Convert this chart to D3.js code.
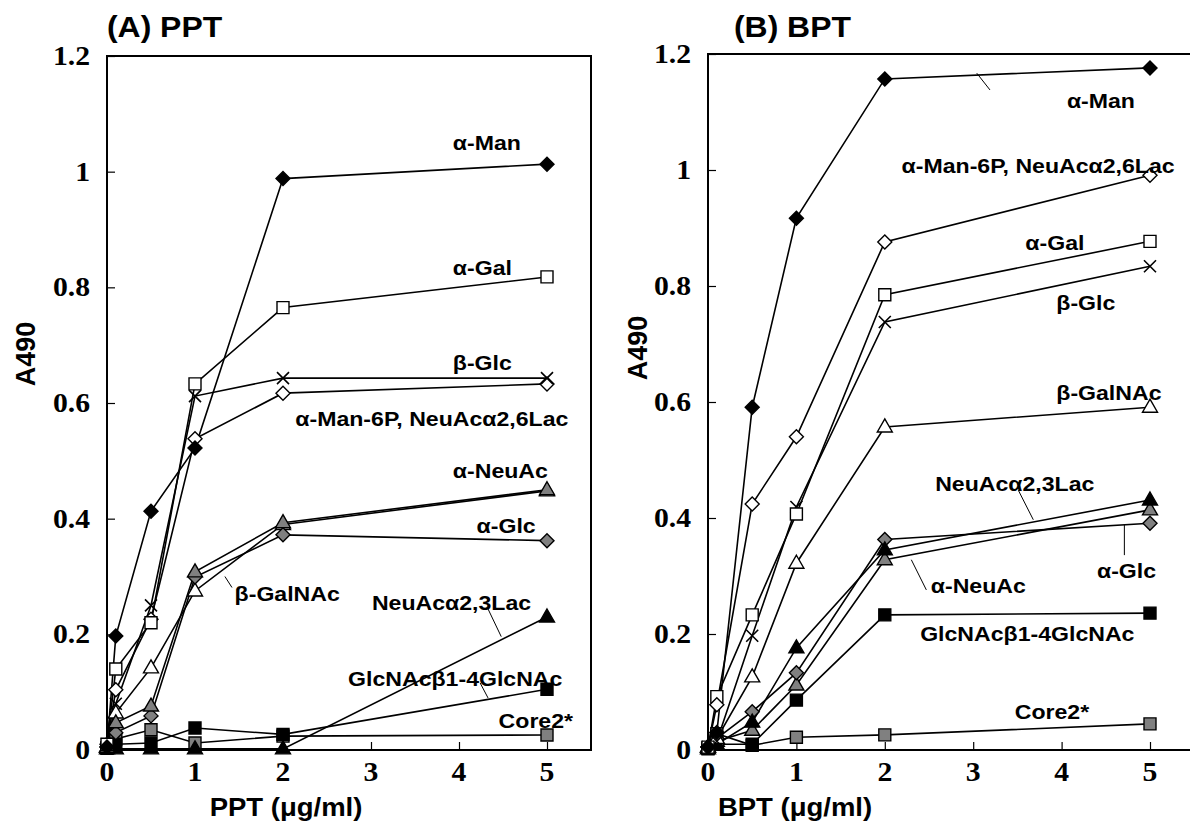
<!DOCTYPE html>
<html lang="en">
  <head>
    <meta http-equiv="Content-Type" content="text/html; charset=utf-8"/>
    <style>
body { margin: 0; background: #fff; }
.serif { font-family: "Liberation Serif", "Times New Roman", serif; font-weight: bold; fill: #000; }
.sans { font-family: "Liberation Sans", Arial, sans-serif; font-weight: bold; fill: #000; }
line.lead { stroke: #000; stroke-width: 1; }
    </style>
  </head>
  <body>
    <svg id="chart" width="1190" height="834"></svg>
    <script src="https://d3js.org/d3.v7.min.js"></script>
    <script>

// concentrations (ug/ml)
var conc = [0, 0.1, 0.5, 1, 2, 5];
var xTicks = [0, 1, 2, 3, 4, 5];
var yTicks = [0, 0.2, 0.4, 0.6, 0.8, 1, 1.2];

// (A) PPT
var pptAMan     = [0.005, 0.197, 0.413, 0.522, 0.988, 1.013];
var pptAGal     = [0.010, 0.140, 0.220, 0.633, 0.765, 0.818];
var pptBGlc     = [0.010, 0.080, 0.250, 0.612, 0.643, 0.643];
var pptAMan6P   = [0.010, 0.104, 0.226, 0.538, 0.617, 0.633];
var pptBGalNAc  = [0.005, 0.064, 0.142, 0.275, 0.390, 0.448];
var pptANeuAc   = [0.005, 0.047, 0.076, 0.308, 0.393, 0.450];
var pptAGlc     = [0.005, 0.030, 0.059, 0.299, 0.372, 0.362];
var pptNeu23    = [0.002, 0.002, 0.002, 0.002, 0.002, 0.230];
var pptGlcNAc   = [0.003, 0.010, 0.012, 0.038, 0.027, 0.105];
var pptCore2    = [0.004, 0.019, 0.035, 0.012, 0.024, 0.026];

// (B) BPT
var bptAMan     = [0.005, 0.030, 0.591, 0.917, 1.157, 1.176];
var bptAMan6P   = [0.005, 0.078, 0.424, 0.540, 0.876, 0.991];
var bptAGal     = [0.005, 0.092, 0.233, 0.407, 0.785, 0.877];
var bptBGlc     = [0.005, 0.015, 0.197, 0.419, 0.738, 0.834];
var bptBGalNAc  = [0.005, 0.020, 0.126, 0.322, 0.557, 0.591];
var bptNeu23    = [0.002, 0.010, 0.048, 0.176, 0.345, 0.431];
var bptAGlc     = [0.005, 0.020, 0.066, 0.133, 0.363, 0.391];
var bptANeuAc   = [0.005, 0.015, 0.034, 0.112, 0.328, 0.414];
var bptGlcNAc   = [0.002, 0.010, 0.010, 0.086, 0.233, 0.236];
var bptCore2    = [0.003, 0.028, 0.008, 0.022, 0.026, 0.045];

var pptSeries = [
  { v: pptCore2, m: 'square', fill: '#808080' },
  { v: pptGlcNAc, m: 'square', fill: '#000' },
  { v: pptNeu23, m: 'triangle', fill: '#000' },
  { v: pptBGalNAc, m: 'triangle', fill: '#fff' },
  { v: pptAGlc, m: 'diamond', fill: '#808080' },
  { v: pptANeuAc, m: 'triangle', fill: '#808080' },
  { v: pptAMan6P, m: 'diamond', fill: '#fff' },
  { v: pptBGlc, m: 'cross', fill: 'none' },
  { v: pptAGal, m: 'square', fill: '#fff' },
  { v: pptAMan, m: 'diamond', fill: '#000' }
];
var bptSeries = [
  { v: bptCore2, m: 'square', fill: '#808080' },
  { v: bptGlcNAc, m: 'square', fill: '#000' },
  { v: bptANeuAc, m: 'triangle', fill: '#808080' },
  { v: bptAGlc, m: 'diamond', fill: '#808080' },
  { v: bptNeu23, m: 'triangle', fill: '#000' },
  { v: bptBGalNAc, m: 'triangle', fill: '#fff' },
  { v: bptBGlc, m: 'cross', fill: 'none' },
  { v: bptAGal, m: 'square', fill: '#fff' },
  { v: bptAMan6P, m: 'diamond', fill: '#fff' },
  { v: bptAMan, m: 'diamond', fill: '#000' }
];

// labels: text, x/y in data units (left edge, baseline), optional leader line
var pptLabels = [
  { t: 'α-Man', x: 3.93, y: 1.037 },
  { t: 'α-Gal', x: 3.93, y: 0.821 },
  { t: 'β-Glc', x: 3.93, y: 0.657 },
  { t: 'α-Man-6P, NeuAcα2,6Lac', x: 2.14, y: 0.560 },
  { t: 'α-NeuAc', x: 3.93, y: 0.470 },
  { t: 'α-Glc', x: 4.20, y: 0.375 },
  { t: 'β-GalNAc', x: 1.45, y: 0.258, l: [1.34, 0.300, 1.42, 0.281] },
  { t: 'NeuAcα2,3Lac', x: 3.01, y: 0.242, l: [4.32, 0.247, 4.48, 0.196] },
  { t: 'GlcNAcβ1-4GlcNAc', x: 2.74, y: 0.111, l: [4.24, 0.116, 4.33, 0.090] },
  { t: 'Core2*', x: 4.45, y: 0.038 }
];
var bptLabels = [
  { t: 'α-Man', x: 4.06, y: 1.107, l: [3.04, 1.167, 3.19, 1.138] },
  { t: 'α-Man-6P, NeuAcα2,6Lac', x: 2.19, y: 0.995 },
  { t: 'α-Gal', x: 3.59, y: 0.862 },
  { t: 'β-Glc', x: 3.94, y: 0.759 },
  { t: 'β-GalNAc', x: 3.94, y: 0.603 },
  { t: 'NeuAcα2,3Lac', x: 2.57, y: 0.447, l: [3.51, 0.448, 3.68, 0.397] },
  { t: 'α-NeuAc', x: 2.52, y: 0.271, l: [2.30, 0.328, 2.47, 0.276] },
  { t: 'α-Glc', x: 4.40, y: 0.297, l: [4.71, 0.388, 4.71, 0.336] },
  { t: 'GlcNAcβ1-4GlcNAc', x: 2.40, y: 0.188 },
  { t: 'Core2*', x: 3.47, y: 0.053 }
];

var svg = d3.select('#chart');
var SX = 1.1;

function stretchText(g, x, y, txt, cls, size, anchor) {
  return g.append('text')
    .attr('class', cls)
    .attr('transform', 'translate(' + x + ',' + y + ') scale(' + SX + ',1)')
    .attr('text-anchor', anchor || 'start')
    .style('font-size', size + 'px')
    .text(txt);
}

function marker(g, m, fill, cx, cy) {
  if (m === 'cross') {
    var s = 6;
    g.append('path')
      .attr('d', 'M' + (cx - s) + ',' + (cy - s) + 'L' + (cx + s) + ',' + (cy + s) +
                 'M' + (cx - s) + ',' + (cy + s) + 'L' + (cx + s) + ',' + (cy - s))
      .attr('stroke', '#000').attr('stroke-width', 1.6).attr('fill', 'none');
    return;
  }
  var d;
  if (m === 'square') {
    d = 'M' + (cx - 6) + ',' + (cy - 6) + 'h12v12h-12Z';
  } else if (m === 'diamond') {
    d = 'M' + cx + ',' + (cy - 7) + 'L' + (cx + 7) + ',' + cy + 'L' + cx + ',' + (cy + 7) + 'L' + (cx - 7) + ',' + cy + 'Z';
  } else {
    d = 'M' + cx + ',' + (cy - 8) + 'L' + (cx + 7.5) + ',' + (cy + 5) + 'L' + (cx - 7.5) + ',' + (cy + 5) + 'Z';
  }
  g.append('path').attr('d', d)
    .attr('fill', fill).attr('stroke', '#000').attr('stroke-width', 1.4);
}

function drawPanel(o) {
  var x = d3.scaleLinear().domain([0, 5.5]).range([o.left, o.left + 5.5 * o.ux]);
  var y = d3.scaleLinear().domain([0, 1.2]).range([o.bottom, o.top]);
  var g = svg.append('g');

  // frame
  g.append('rect')
    .attr('x', x(0)).attr('y', y(1.2))
    .attr('width', x(5.5) - x(0)).attr('height', y(0) - y(1.2))
    .attr('fill', 'none').attr('stroke', '#000').attr('stroke-width', 2);

  // ticks (pointing inward)
  g.append('g').attr('transform', 'translate(' + x(0) + ',0)')
    .call(d3.axisRight(y).tickValues(yTicks).tickSize(8).tickFormat(''))
    .call(function(a) { a.select('.domain').remove(); a.selectAll('line').attr('stroke-width', 1.2); });
  g.append('g').attr('transform', 'translate(0,' + y(0) + ')')
    .call(d3.axisTop(x).tickValues(xTicks).tickSize(8).tickFormat(''))
    .call(function(a) { a.select('.domain').remove(); a.selectAll('line').attr('stroke-width', 1.2); });

  yTicks.forEach(function(t) {
    stretchText(g, x(0) - 17, y(t) + 9, String(t), 'serif', 27, 'end');
  });
  xTicks.forEach(function(t) {
    stretchText(g, x(t), 781, String(t), 'serif', 27, 'middle');
  });

  // titles
  stretchText(g, o.titleX, 37, o.title, 'sans', 29, 'start');
  stretchText(g, o.xTitleX, 816, o.xTitle, 'sans', 25, 'middle');
  g.append('text').attr('class', 'sans')
    .attr('transform', 'translate(' + o.yTitleX + ',' + o.yTitleY + ') rotate(-90)')
    .attr('text-anchor', 'middle').style('font-size', '27px').text('A490');

  var line = d3.line().x(function(d, i) { return x(conc[i]); }).y(function(d) { return y(d); });

  o.series.forEach(function(s) {
    g.append('path').datum(s.v).attr('d', line)
      .attr('fill', 'none').attr('stroke', '#000').attr('stroke-width', 1.6);
  });
  o.series.forEach(function(s) {
    s.v.forEach(function(v, i) { marker(g, s.m, s.fill, x(conc[i]), y(v)); });
  });

  o.labels.forEach(function(lb) {
    if (lb.l) {
      g.append('line').attr('class', 'lead')
        .attr('x1', x(lb.l[0])).attr('y1', y(lb.l[1]))
        .attr('x2', x(lb.l[2])).attr('y2', y(lb.l[3]));
    }
    stretchText(g, x(lb.x), y(lb.y), lb.t, 'sans', 21, 'start');
  });
}

drawPanel({ left: 107, ux: 88, top: 56, bottom: 750, series: pptSeries, labels: pptLabels,
  title: '(A) PPT', titleX: 107, xTitle: 'PPT (μg/ml)', xTitleX: 286, yTitleX: 35, yTitleY: 354 });
drawPanel({ left: 708, ux: 88.4, top: 54, bottom: 750, series: bptSeries, labels: bptLabels,
  title: '(B) BPT', titleX: 734, xTitle: 'BPT (μg/ml)', xTitleX: 795, yTitleX: 647, yTitleY: 348 });

    </script>
  </body>
</html>
